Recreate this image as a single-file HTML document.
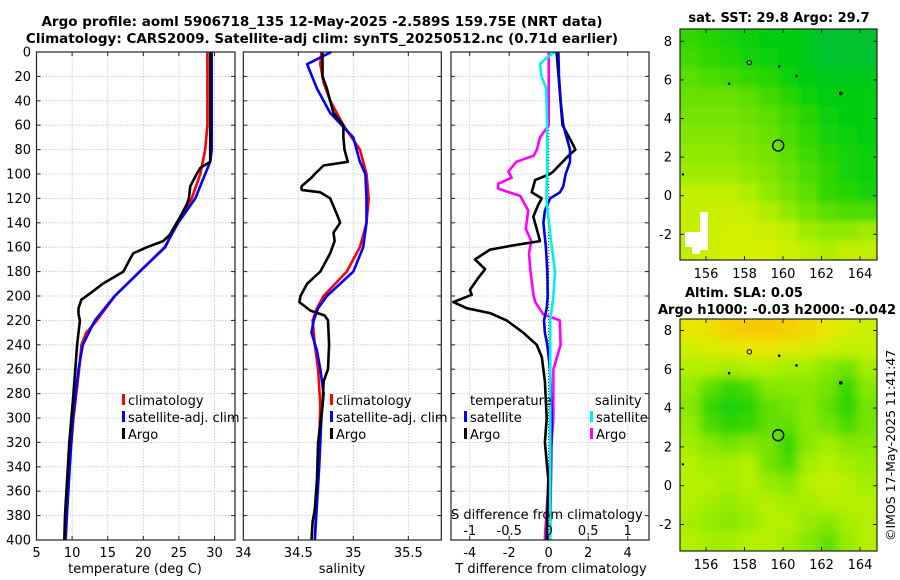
<!DOCTYPE html>
<html><head><meta charset="utf-8"><style>
html,body{margin:0;padding:0;background:#fff;}
svg{display:block;font-family:"DejaVu Sans","Liberation Sans",sans-serif;}
</style></head><body>
<svg id="chart" width="900" height="580" viewBox="0 0 900 580" xmlns="http://www.w3.org/2000/svg">
<defs>
<filter id="blur" x="0" y="0" width="1" height="1"><feGaussianBlur stdDeviation="3"/></filter>
<filter id="blur2" x="0" y="0" width="1" height="1"><feGaussianBlur stdDeviation="5"/></filter>
<clipPath id="clipM1"><rect x="680" y="29" width="197" height="231"/></clipPath>
<clipPath id="clipM2"><rect x="680" y="319" width="197" height="232"/></clipPath>
</defs>
<text x="322" y="26" font-size="13.5" font-weight="bold" text-anchor="middle">Argo profile: aoml 5906718_135 12-May-2025 -2.589S 159.75E (NRT data)</text>
<text x="322" y="43" font-size="13.5" font-weight="bold" text-anchor="middle">Climatology: CARS2009. Satellite-adj clim: synTS_20250512.nc (0.71d earlier)</text>
<text x="779" y="22" font-size="13" font-weight="bold" text-anchor="middle">sat. SST: 29.8 Argo: 29.7</text>
<text x="685" y="297" font-size="13" font-weight="bold">Altim. SLA: 0.05</text>
<text x="658" y="314" font-size="13" font-weight="bold">Argo h1000: -0.03 h2000: -0.042</text>
<text transform="translate(895,541) rotate(-90)" font-size="12.5">©IMOS 17-May-2025 11:41:47</text>
<g id="g"></g>
</svg>
<script>
// ---------- profile data ----------
const tClimD=[0,60,80,100,120,140,160,180,200,220,230,240,260,300,340,400];
const tClimV=[29.0,29.0,28.7,28.0,26.8,24.7,23.1,19.5,16.0,13.5,12.0,11.3,11.0,10.2,9.6,9.1];
const tSatD=[0,80,90,100,120,140,160,180,200,220,240,260,300,400];
const tSatV=[29.6,29.6,29.4,28.7,27.3,24.9,23.0,19.5,16.0,13.2,11.5,10.9,10.1,9.05];
const tArgoD=[0,90,95,100,110,120,125,135,150,155,160,165,170,180,190,198,203,210,215,220,240,280,320,380,400];
const tArgoV=[29.4,29.4,28.0,27.5,26.6,26.4,26.1,25.2,23.7,22.8,20.5,18.6,18.1,17.2,14.3,12.5,11.3,10.9,10.9,11.1,10.7,10.2,9.6,9.0,8.9];
const sClimD=[0,10,25,40,60,80,100,120,140,160,180,200,210,220,240,260,290,320,360,400];
const sClimV=[34.71,34.70,34.73,34.79,34.91,35.06,35.12,35.14,35.12,35.06,34.94,34.73,34.67,34.63,34.65,34.68,34.70,34.69,34.67,34.65];
const sSatD=[0,10,30,50,70,90,100,120,140,160,180,200,210,220,230,245,260,280,300,340,400];
const sSatV=[34.80,34.58,34.67,34.79,35.0,35.06,35.11,35.12,35.12,35.09,35.0,34.76,34.68,34.64,34.62,34.67,34.70,34.73,34.71,34.69,34.65];
const sArgoD=[0,20,30,50,60,70,80,90,93,100,103,110,113,115,120,135,140,148,155,165,180,190,200,205,212,216,220,240,260,270,290,320,350,375,385,400];
const sArgoV=[34.72,34.72,34.76,34.82,34.91,34.91,34.92,34.95,34.73,34.65,34.62,34.53,34.53,34.70,34.79,34.86,34.88,34.82,34.83,34.79,34.70,34.58,34.52,34.51,34.61,34.74,34.77,34.78,34.77,34.73,34.72,34.68,34.67,34.65,34.63,34.62];
const dtSatD=[0,20,40,60,80,90,100,110,115,120,130,140,160,180,200,210,220,230,240,260,300,340,400];
const dtSatV=[0.49,0.52,0.6,0.74,1.08,1.08,0.86,0.74,0.57,0.07,-0.19,-0.27,-0.14,-0.07,-0.05,-0.1,-0.24,-0.19,-0.07,0.07,0.15,0.12,0.07];
const dtArgoD=[0,60,75,80,85,98,100,105,115,120,125,135,150,155,158,162,170,178,185,195,199,205,210,214,220,230,240,250,270,300,320,350,400];
const dtArgoV=[0.4,0.7,1.2,1.35,1.0,0.23,0.07,-0.69,-0.86,-0.35,-0.52,-0.78,-0.52,-0.44,-1.62,-2.97,-3.73,-3.22,-3.56,-3.99,-3.9,-4.83,-4.15,-2.97,-2.13,-1.29,-0.61,-0.35,-0.19,-0.1,-0.19,-0.02,-0.1];
const dsSatD=[0,5,10,20,30,60,100,120,150,180,200,220,260,300,400];
const dsSatV=[0.08,-0.03,-0.11,-0.09,-0.03,-0.02,-0.02,-0.03,0.02,0.08,0.06,0.02,0.02,0.02,0.02];
const dsArgoD=[0,60,70,80,85,90,98,103,108,112,118,130,145,155,165,180,200,205,215,220,240,260,300,350,400];
const dsArgoV=[0,0,-0.11,-0.15,-0.19,-0.41,-0.51,-0.47,-0.64,-0.64,-0.36,-0.26,-0.29,-0.22,-0.25,-0.23,-0.19,-0.17,-0.07,0.14,0.15,0.06,0.06,0,-0.05];
const depthTicks=[0,20,40,60,80,100,120,140,160,180,200,220,240,260,280,300,320,340,360,380,400];
const tTicks=[5,10,15,20,25,30];
const sTicks=[34,34.5,35,35.5];
const dtTicks=[-4,-2,0,2,4];
const dsTicks=[-1,-0.5,0,0.5,1];
const dsTickLabels=["-1","-0.5","0","0.5","1"];
// ---------- map data (colour levels, rows from north to south) ----------
const sstLevels=[
[0.8,0.85,0.9,0.95,1.0,1.0,1.05,1.1,1.1,1.1],
[0.75,0.8,0.85,0.9,0.95,1.0,1.05,1.1,1.1,1.1],
[0.65,0.7,0.75,0.8,0.85,0.95,1.0,1.05,1.05,1.05],
[0.6,0.6,0.6,0.65,0.75,0.85,0.95,1.0,1.0,1.0],
[0.55,0.55,0.55,0.6,0.65,0.75,0.85,0.95,1.0,1.0],
[0.5,0.5,0.5,0.55,0.6,0.7,0.8,0.9,0.95,1.0],
[0.45,0.45,0.45,0.5,0.55,0.65,0.75,0.85,0.9,0.95],
[0.4,0.4,0.4,0.45,0.5,0.6,0.7,0.8,0.9,0.95],
[0.3,0.3,0.3,0.35,0.45,0.55,0.65,0.8,0.85,0.9],
[0.25,0.2,0.2,0.25,0.35,0.45,0.55,0.65,0.7,0.7],
[0.25,0.2,0.15,0.15,0.2,0.3,0.4,0.45,0.45,0.4],
[0.3,0.2,0.1,0.1,0.1,0.2,0.3,0.35,0.3,0.3]];
const slaLevels=[
[0.2,0.15,0.05,0.0,0.0,0.05,0.1,0.2,0.3,0.35],
[0.35,0.3,0.25,0.2,0.2,0.25,0.3,0.35,0.4,0.4],
[0.45,0.45,0.5,0.45,0.45,0.5,0.5,0.6,0.65,0.5],
[0.55,0.7,0.8,0.75,0.6,0.6,0.6,0.65,0.8,0.6],
[0.6,0.8,0.9,0.85,0.7,0.65,0.6,0.7,0.85,0.65],
[0.55,0.75,0.85,0.8,0.7,0.7,0.6,0.65,0.75,0.65],
[0.5,0.6,0.65,0.6,0.65,0.8,0.6,0.5,0.6,0.6],
[0.45,0.5,0.5,0.45,0.65,0.75,0.5,0.45,0.5,0.55],
[0.45,0.45,0.5,0.45,0.55,0.6,0.45,0.4,0.45,0.5],
[0.45,0.5,0.55,0.5,0.45,0.5,0.5,0.45,0.45,0.45],
[0.5,0.55,0.6,0.55,0.45,0.45,0.55,0.6,0.5,0.45],
[0.45,0.5,0.5,0.45,0.45,0.5,0.6,0.7,0.55,0.45]];
const lonTicks=[156,158,160,162,164];
const latTicks=[-2,0,2,4,6,8];
const argoLon=[159.75];
const argoLat=[2.6];

const NS="http://www.w3.org/2000/svg";
const G=document.getElementById('g');
function mk(tag,attrs,parent){const e=document.createElementNS(NS,tag);for(const k in attrs)e.setAttribute(k,attrs[k]);(parent||G).appendChild(e);return e;}
function txt(s,x,y,size,anchor,parent){const t=mk('text',{x:x,y:y,'font-size':size,'text-anchor':anchor||'start'},parent);t.textContent=s;return t;}

const yD=d=>52+d*1.22;
const xT=t=>36.5+(t-5)*7.12;
const xS=s=>243.3+(s-34)*110;
const xDT=v=>548.7+v*19.75;
const xDS=v=>548.7+v*79;

const panels=[{x0:36.5,x1:235,name:'temperature-panel'},{x0:243.3,x1:441.3,name:'salinity-panel'},{x0:451,x1:649,name:'difference-panel'}];
panels.forEach(p=>{
  const bg=mk('rect',{x:p.x0,y:52,width:p.x1-p.x0,height:488,fill:'#fff'});
  
  
  depthTicks.forEach(d=>{
    const l=mk('line',{x1:p.x0,x2:p.x1,y1:yD(d),y2:yD(d),stroke:'#b8c0e8','stroke-width':0.8,'stroke-dasharray':'1.5,1.5'});
    
    
    mk('line',{x1:p.x0,x2:p.x0+4,y1:yD(d),y2:yD(d),stroke:'#222','stroke-width':1});
    mk('line',{x1:p.x1-4,x2:p.x1,y1:yD(d),y2:yD(d),stroke:'#222','stroke-width':1});
  });
});
function vgrid(xs,fx,p){xs.forEach(v=>{const x=fx(v);if(x<=p.x0+1||x>=p.x1-1)return;
  const l=mk('line',{x1:x,x2:x,y1:52,y2:540,stroke:'#b8c0e8','stroke-width':0.8,'stroke-dasharray':'1.5,1.5'});
  
  
  mk('line',{x1:x,x2:x,y1:540,y2:536,stroke:'#222'});mk('line',{x1:x,x2:x,y1:52,y2:56,stroke:'#222'});});}
vgrid(tTicks,xT,panels[0]);vgrid(sTicks.concat([36]),xS,panels[1]);vgrid(dtTicks,xDT,panels[2]);

depthTicks.forEach(d=>{const t=txt(String(d),31,yD(d)+4.5,13,'end');
  
  });
tTicks.forEach(v=>{const t=txt(String(v),xT(v),557,13,'middle');
  
  });
sTicks.forEach(v=>{const t=txt(String(v),xS(v),557,13,'middle');
  
  });
dtTicks.forEach(v=>{const t=txt(String(v),xDT(v),557,13,'middle');
  
  });
let t1=txt('temperature (deg C)',135,573,13,'middle');


let t2=txt('salinity',342,573,13,'middle');


let t3=txt('T difference from climatology',551,573,13,'middle');



const zl=mk('line',{x1:xDT(0),x2:xDT(0),y1:52,y2:540,stroke:'#333','stroke-width':1,'stroke-dasharray':'1,2'});



function series(D,V,fx,color,w,name){
  const pts=D.map((d,i)=>fx(V[i]).toFixed(1)+','+yD(d).toFixed(1)).join(' ');
  const pl=mk('polyline',{points:pts,fill:'none',stroke:color,'stroke-width':w,'stroke-linejoin':'round'});
  
  
}
series(tClimD,tClimV,xT,'#ff0000',2.6,'temperature-climatology-line');
series(tSatD,tSatV,xT,'#0000ff',2.6,'temperature-satellite-line');
series(tArgoD,tArgoV,xT,'#000',2.6,'temperature-argo-line');
series(sClimD,sClimV,xS,'#ff0000',2.6,'salinity-climatology-line');
series(sSatD,sSatV,xS,'#0000ff',2.6,'salinity-satellite-line');
series(sArgoD,sArgoV,xS,'#000',2.6,'salinity-argo-line');
series(dsArgoD,dsArgoV,xDS,'#ff00ff',2.6,'salinity-argo-difference-line');
series(dtArgoD,dtArgoV,xDT,'#000',2.6,'temperature-argo-difference-line');
series(dtSatD,dtSatV,xDT,'#0000e0',2.6,'temperature-satellite-difference-line');
series(dsSatD,dsSatV,xDS,'#00f0f0',2.6,'salinity-satellite-difference-line');

panels.forEach(p=>{const r=mk('rect',{x:p.x0,y:52,width:p.x1-p.x0,height:488,fill:'none',stroke:'#222','stroke-width':1.2});
  
  });

function legItem(x,y,color,label,name){
  const r=mk('rect',{x:x,y:y-11,width:3,height:11,fill:color});
  
  
  const t=txt(label,x+6,y,13,'start');
  
  
}
legItem(122,405,'#ff0000','climatology','legend-entry-climatology');
legItem(122,422,'#0000ff','satellite-adj. clim','legend-entry-satellite-adj');
legItem(122,439,'#000','Argo','legend-entry-argo');
legItem(330,405,'#ff0000','climatology','legend-entry-climatology-2');
legItem(330,422,'#0000ff','satellite-adj. clim','legend-entry-satellite-adj-2');
legItem(330,439,'#000','Argo','legend-entry-argo-2');
let lt=txt('temperature',470,405,13,'start');


let ls=txt('salinity',595,405,13,'start');


legItem(464,422,'#0000ff','satellite','legend-entry-t-satellite');
legItem(464,439,'#000','Argo','legend-entry-t-argo');
legItem(590,422,'#00f0f0','satellite','legend-entry-s-satellite');
legItem(590,439,'#ff00ff','Argo','legend-entry-s-argo');
let sdt=txt('S difference from climatology',451,519,13,'start');


dsTicks.forEach((v,i)=>{const t=txt(dsTickLabels[i],xDS(v),535,13,'middle');
  
  });

// ---------- maps ----------
function lerp(a,b,t){return a+(b-a)*t;}
function cmap(stops,v){
  v=Math.max(0,Math.min(stops[stops.length-1][0],v));
  for(let i=1;i<stops.length;i++){if(v<=stops[i][0]){const a=stops[i-1],b=stops[i];const t=(v-a[0])/(b[0]-a[0]);
    return 'rgb('+[1,2,3].map(k=>Math.round(lerp(a[k],b[k],t))).join(',')+')';}}
  const s=stops[stops.length-1];return 'rgb('+s[1]+','+s[2]+','+s[3]+')';
}
const sstStops=[[0,225,240,0],[0.3,190,240,0],[0.5,130,230,0],[0.8,50,215,0],[1.0,0,205,15],[1.1,0,195,45]];
const slaStops=[[0,250,200,0],[0.2,235,230,0],[0.4,195,242,0],[0.6,135,232,0],[0.8,55,215,0],[0.95,15,205,15]];
function drawMap(m){
  const lon0=154.65,lon1=164.88,lat0=m.latTop,lat1=m.latBot;
  const xL=lon=>706+(lon-156)*19.25, yL=lat=>m.y0-lat*m.k;
  const grp=mk('g',{'clip-path':'url(#'+m.clip+')'});
  
  
  const inner=mk('g',{filter:'url(#'+m.filter+')'},grp);
  const nr=m.data.length,nc=m.data[0].length;
  const dlon=(lon1-lon0)/nc,dlat=(lat0-lat1)/nr;
  for(let r=-1;r<=nr;r++)for(let c=-1;c<=nc;c++){
    const rr=Math.max(0,Math.min(nr-1,r)),cc=Math.max(0,Math.min(nc-1,c));
    const xa=xL(lon0+c*dlon),xb=xL(lon0+(c+1)*dlon),ya=yL(lat0-r*dlat),yb=yL(lat0-(r+1)*dlat);
    const cell=mk('rect',{x:xa.toFixed(1),y:ya.toFixed(1),width:(xb-xa+0.6).toFixed(1),height:(yb-ya+0.6).toFixed(1),fill:cmap(m.stops,m.data[rr][cc])},inner);
    
    
  }
  if(m.hole){m.hole.forEach(h=>mk('rect',{x:h[0],y:h[1],width:h[2],height:h[3],fill:'#fff'},grp));}
  [[158.25,6.9,2.2],[157.2,5.8,0.8],[159.8,6.7,0.8],[160.7,6.2,0.8],[163.0,5.3,1.3],[154.8,1.1,0.7]].forEach(p=>{
    const c=mk('circle',{cx:xL(p[0]),cy:yL(p[1]),r:p[2],fill:p[2]>2?'none':'#000',stroke:'#000','stroke-width':1},grp);
    
    
  });
  argoLon.forEach((lo,i)=>{const c=mk('circle',{cx:xL(lo),cy:yL(argoLat[i]),r:5.5,fill:'none',stroke:'#000','stroke-width':1.4});
    
    });
  const fr=mk('rect',{x:680,y:m.top,width:197,height:m.bot-m.top,fill:'none',stroke:'#222','stroke-width':1.2});
  
  
  lonTicks.forEach(v=>{const x=xL(v);mk('line',{x1:x,x2:x,y1:m.bot,y2:m.bot-4,stroke:'#222'});mk('line',{x1:x,x2:x,y1:m.top,y2:m.top+4,stroke:'#222'});
    const t=txt(String(v),x,m.bot+18,13,'middle');
    
    });
  latTicks.forEach(v=>{const y=yL(v);mk('line',{x1:680,x2:684,y1:y,y2:y,stroke:'#222'});mk('line',{x1:873,x2:877,y1:y,y2:y,stroke:'#222'});
    const t=txt(String(v),672,y+4.5,13,'end');
    
    });
}
drawMap({name:'sst-map',data:sstLevels,stops:sstStops,y0:195.7,k:19.3,latTop:8.64,latBot:-3.33,top:29,bot:260,clip:'clipM1',filter:'blur',
  hole:[[700,212,8,38],[685,232,18,15],[692,246,8,8]]});
drawMap({name:'sla-map',data:slaLevels,stops:slaStops,y0:485.7,k:19.4,latTop:8.59,latBot:-3.37,top:319,bot:551,clip:'clipM2',filter:'blur2'});
</script>
</body></html>
